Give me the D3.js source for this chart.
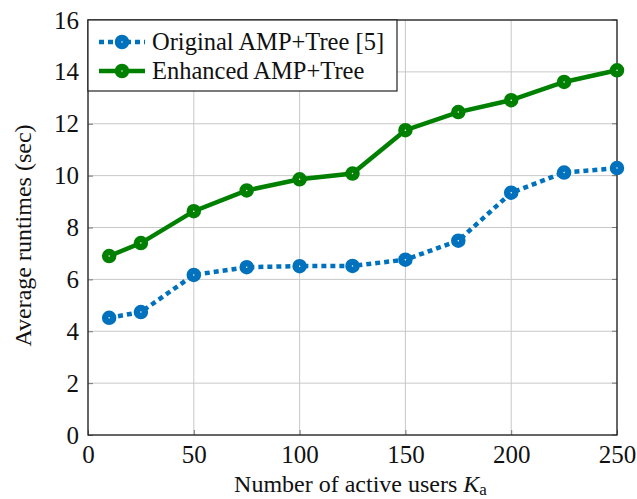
<!DOCTYPE html>
<html>
<head>
<meta charset="utf-8">
<script src="https://cdn.jsdelivr.net/npm/d3@7"></script>
<style>
  body { margin: 0; background: #fff; }
</style>
</head>
<body>
<div id="chart"></div>
<script>
// data
const users = [10, 25, 50, 75, 100, 125, 150, 175, 200, 225, 250];
const originalRuntime = [4.52, 4.74, 6.17, 6.47, 6.51, 6.52, 6.76, 7.49, 9.34, 10.12, 10.29];
const enhancedRuntime = [6.9, 7.4, 8.63, 9.43, 9.86, 10.08, 11.75, 12.45, 12.91, 13.61, 14.06];
const xTicks = [0, 50, 100, 150, 200, 250];
const yTicks = [0, 2, 4, 6, 8, 10, 12, 14, 16];

const serif = "'Liberation Serif', 'Times New Roman', 'DejaVu Serif', serif";

const W = 637, H = 499;
const margin = {top: 20, right: 20, bottom: 64, left: 88};
const width = W - margin.left - margin.right;
const height = H - margin.top - margin.bottom;

const svg = d3.select("#chart").append("svg")
  .attr("width", W).attr("height", H)
  .attr("font-family", serif);
const chart = svg.append("g")
  .attr("transform", `translate(${margin.left},${margin.top})`);

// scales
const x = d3.scaleLinear().domain([0, 250]).range([0, width]);
const y = d3.scaleLinear().domain([0, 16]).range([height, 0]);

// grid
chart.append("g").selectAll("line").data(xTicks).join("line")
  .attr("x1", d => x(d)).attr("x2", d => x(d))
  .attr("y1", 0).attr("y2", height)
  .attr("stroke", "#c8c8c8").attr("stroke-width", 1);
chart.append("g").selectAll("line").data(yTicks).join("line")
  .attr("y1", d => y(d)).attr("y2", d => y(d))
  .attr("x1", 0).attr("x2", width)
  .attr("stroke", "#c8c8c8").attr("stroke-width", 1);

// axes (ticks inside, labels outside)
const xAxis = chart.append("g")
  .attr("transform", `translate(0,${height})`)
  .call(d3.axisBottom(x).tickValues(xTicks).tickSizeInner(-5).tickSizeOuter(0).tickPadding(10));
const yAxis = chart.append("g")
  .call(d3.axisLeft(y).tickValues(yTicks).tickSizeInner(-5).tickSizeOuter(0).tickPadding(9));
[xAxis, yAxis].forEach(a => {
  a.attr("font-family", serif).attr("font-size", 25);
  a.select(".domain").remove();
  a.selectAll(".tick line").attr("stroke", "#777");
  a.selectAll(".tick text").attr("fill", "#111");
});
// right-side ticks
chart.append("g").selectAll("line").data(yTicks).join("line")
  .attr("x1", width).attr("x2", width - 5)
  .attr("y1", d => y(d)).attr("y2", d => y(d))
  .attr("stroke", "#777");

// frame
chart.append("rect")
  .attr("width", width).attr("height", height)
  .attr("fill", "none").attr("stroke", "#222").attr("stroke-width", 1.3);

// lines
const series = [
  {name: "Original AMP+Tree [5]", values: originalRuntime, color: "#0072bd", dash: "5,4"},
  {name: "Enhanced AMP+Tree", values: enhancedRuntime, color: "#008000", dash: null}
];
const line = d3.line().x((d, i) => x(users[i])).y(d => y(d));

series.forEach(s => {
  chart.append("path")
    .datum(s.values)
    .attr("d", line)
    .attr("fill", "none")
    .attr("stroke", s.color)
    .attr("stroke-width", 4.5)
    .attr("stroke-dasharray", s.dash);
  chart.append("g").selectAll("circle").data(s.values).join("circle")
    .attr("cx", (d, i) => x(users[i]))
    .attr("cy", d => y(d))
    .attr("r", 4)
    .attr("fill", "#fff")
    .attr("stroke", s.color)
    .attr("stroke-width", 6.5);
});

// legend
const legend = chart.append("g");
legend.append("rect")
  .attr("x", 0).attr("y", 0).attr("width", 309).attr("height", 71)
  .attr("fill", "#fff").attr("stroke", "#222").attr("stroke-width", 1.2);
series.forEach((s, i) => {
  const ly = 22 + i * 29;
  legend.append("line")
    .attr("x1", 11).attr("x2", 57).attr("y1", ly).attr("y2", ly)
    .attr("stroke", s.color).attr("stroke-width", 4.5)
    .attr("stroke-dasharray", s.dash);
  legend.append("circle")
    .attr("cx", 34).attr("cy", ly).attr("r", 4)
    .attr("fill", "#fff").attr("stroke", s.color).attr("stroke-width", 6.5);
  legend.append("text")
    .attr("x", 64).attr("y", ly + 8)
    .attr("font-size", 24.5)
    .attr("fill", "#111")
    .text(s.name);
});

// axis labels
svg.append("text")
  .attr("x", margin.left + width / 2 + 8).attr("y", H - 7)
  .attr("text-anchor", "middle")
  .attr("font-size", 24)
  .attr("fill", "#111")
  .html('Number of active users <tspan font-style="italic">K</tspan><tspan font-size="17" dy="3">a</tspan>');
svg.append("text")
  .attr("transform", `translate(31,${margin.top + height / 2 + 8}) rotate(-90)`)
  .attr("text-anchor", "middle")
  .attr("font-size", 24)
  .attr("fill", "#111")
  .text("Average runtimes (sec)");
</script>
</body>
</html>
